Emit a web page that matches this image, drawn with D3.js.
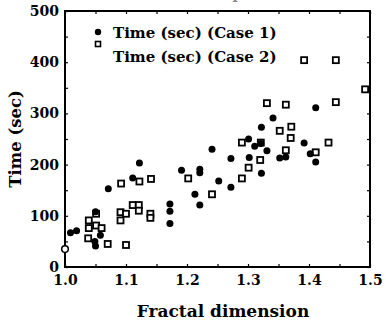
<!DOCTYPE html>
<html>
<head>
<meta charset="utf-8">
<script src="https://cdn.jsdelivr.net/npm/d3@7"></script>
<style>
  body { margin: 0; background: #fff; }
  text { font-family: "DejaVu Serif", serif; font-weight: bold; fill: #000; }
</style>
</head>
<body>
<div id="chart"></div>
<script>
// Case 1: filled circles  [fractal dimension, time in sec]
const case1 = [
  [1.009, 67], [1.019, 71], [1.050, 108], [1.049, 50], [1.050, 41], [1.058, 62],
  [1.071, 153], [1.111, 174], [1.122, 203], [1.172, 123], [1.172, 109], [1.172, 85],
  [1.191, 189], [1.213, 142], [1.221, 121], [1.221, 191], [1.221, 184], [1.241, 230],
  [1.252, 168], [1.272, 212], [1.272, 156], [1.302, 214], [1.301, 250], [1.311, 236],
  [1.321, 241], [1.322, 183], [1.322, 273], [1.331, 227], [1.341, 291], [1.352, 213],
  [1.362, 215], [1.392, 242], [1.402, 221], [1.411, 311], [1.411, 205]
];
// Case 2: open squares
const case2 = [
  [1.039, 91], [1.039, 76], [1.038, 56], [1.051, 81], [1.060, 76], [1.051, 104],
  [1.070, 45], [1.100, 43], [1.091, 107], [1.091, 91], [1.100, 104], [1.111, 121],
  [1.121, 121], [1.121, 110], [1.140, 104], [1.140, 96], [1.092, 163], [1.122, 167],
  [1.141, 172], [1.202, 173], [1.241, 142], [1.290, 173], [1.301, 194], [1.290, 243],
  [1.321, 243], [1.320, 209], [1.331, 320], [1.362, 317], [1.392, 404], [1.444, 404],
  [1.444, 322], [1.492, 347], [1.371, 274], [1.352, 266], [1.370, 252], [1.432, 243],
  [1.362, 228], [1.411, 224]
];
// odd hollow circle sitting on the y axis
const openPoint = [[1.0, 35]];

const xTicks = [1.0, 1.1, 1.2, 1.3, 1.4, 1.5];
const yTicks = [0, 100, 200, 300, 400, 500];
const legendLabels = ['Time (sec) (Case 1)', 'Time (sec) (Case 2)'];

const width = 386, height = 325;
const margin = { top: 11, right: 16, bottom: 58, left: 65 };
const innerWidth = width - margin.left - margin.right;
const innerHeight = height - margin.top - margin.bottom;

const svg = d3.select('#chart').append('svg')
  .attr('width', width)
  .attr('height', height);

// title, mostly cut off at the top edge
svg.append('text')
  .attr('x', 217).attr('y', -1)
  .attr('text-anchor', 'middle')
  .style('font-size', '14px')
  .style('fill', '#888')
  .text('Scatter plot');

const chart = svg.append('g')
  .attr('transform', 'translate(' + margin.left + ',' + margin.top + ')');

const x = d3.scaleLinear().domain([1.0, 1.5]).range([0, innerWidth]);
const y = d3.scaleLinear().domain([0, 500]).range([innerHeight, 0]);

// minor ticks, pointing inward on all four sides
const xMinor = d3.range(1.0, 1.501, 0.05);
const yMinor = d3.range(0, 501, 50);

function minor(g) {
  g.select('.domain').remove();
  g.selectAll('text').remove();
}

chart.append('g')
  .attr('transform', 'translate(0,' + innerHeight + ')')
  .call(d3.axisBottom(x).tickValues(xMinor).tickSize(-3))
  .call(minor);
chart.append('g')
  .call(d3.axisTop(x).tickValues(xMinor).tickSize(-3))
  .call(minor);
chart.append('g')
  .call(d3.axisLeft(y).tickValues(yMinor).tickSize(-3))
  .call(minor);
chart.append('g')
  .attr('transform', 'translate(' + innerWidth + ',0)')
  .call(d3.axisRight(y).tickValues(yMinor).tickSize(-3))
  .call(minor);

// labelled axes
const xAxis = chart.append('g')
  .attr('transform', 'translate(0,' + innerHeight + ')')
  .call(d3.axisBottom(x).tickValues(xTicks).tickSize(0).tickPadding(8).tickFormat(d3.format('.1f')));
xAxis.select('.domain').remove();
xAxis.selectAll('text').style('font-size', '14px').style('font-family', '"DejaVu Serif", serif');

const yAxis = chart.append('g')
  .call(d3.axisLeft(y).tickValues(yTicks).tickSize(0).tickPadding(6));
yAxis.select('.domain').remove();
yAxis.selectAll('text').style('font-size', '14px').style('font-family', '"DejaVu Serif", serif');

chart.selectAll('.tick line').attr('stroke', '#000').attr('stroke-width', 1.2);

// frame
chart.append('rect')
  .attr('width', innerWidth)
  .attr('height', innerHeight)
  .attr('fill', 'none')
  .attr('stroke', '#000')
  .attr('stroke-width', 2);

// axis titles
svg.append('text')
  .attr('x', 223)
  .attr('y', 317)
  .attr('text-anchor', 'middle')
  .style('font-size', '17px')
  .text('Fractal dimension');

svg.append('text')
  .attr('transform', 'translate(21,' + (margin.top + innerHeight / 2) + ') rotate(-90)')
  .attr('text-anchor', 'middle')
  .style('font-size', '16.5px')
  .text('Time (sec)');

// points
chart.selectAll('.sq').data(case2).enter().append('rect')
  .attr('class', 'sq')
  .attr('x', d => x(d[0]) - 3)
  .attr('y', d => y(d[1]) - 3)
  .attr('width', 6).attr('height', 6)
  .attr('fill', '#fff')
  .attr('stroke', '#000')
  .attr('stroke-width', 1.8);

chart.selectAll('.dot').data(case1).enter().append('circle')
  .attr('class', 'dot')
  .attr('cx', d => x(d[0]))
  .attr('cy', d => y(d[1]))
  .attr('r', 3.5)
  .attr('fill', '#000');

chart.selectAll('.open').data(openPoint).enter().append('circle')
  .attr('class', 'open')
  .attr('cx', d => x(d[0]))
  .attr('cy', d => y(d[1]))
  .attr('r', 3.3)
  .attr('fill', '#fff')
  .attr('stroke', '#000')
  .attr('stroke-width', 1.5);

// legend
const legend = chart.append('g').attr('transform', 'translate(33,21)');
legend.append('circle').attr('cx', 0).attr('cy', 0).attr('r', 3.2).attr('fill', '#000');
legend.append('rect').attr('x', -2.5).attr('y', 9.5).attr('width', 5).attr('height', 5)
  .attr('fill', '#fff').attr('stroke', '#000').attr('stroke-width', 1.6);
legendLabels.forEach((t, i) => {
  legend.append('text')
    .attr('x', 15)
    .attr('y', 6 + i * 24)
    .style('font-size', '15px')
    .text(t);
});
</script>
</body>
</html>
